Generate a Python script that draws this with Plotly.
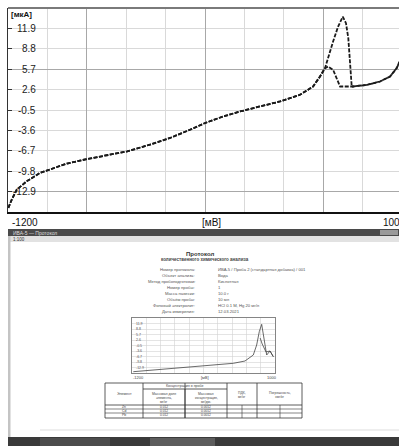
import plotly.graph_objects as go

W, H = 399, 446

# ---------------- main chart data (mV, µA) ----------------
base_v = [-1198, -1179, -1151, -1096, -1021, -947, -872, -757, -630, -534, -408,
          -295, -184, -100, 2, 96, 207, 319, 430, 503, 542, 570]
base_i = [-15.37, -14.11, -12.60, -11.34, -10.06, -9.30, -8.65, -7.94, -7.29, -6.79, -5.77,
          -4.75, -3.50, -2.48, -1.48, -0.72, 0.04, 0.80, 1.81, 3.07, 4.59, 5.86]
peak_a_v = [615, 643, 669, 687, 700, 710, 719]
peak_a_i = [9.90, 12.17, 13.69, 12.69, 10.41, 6.36, 3.07]
peak_b_v = [587, 615, 654]
peak_b_i = [6.11, 5.61, 3.07]
tail_v = [726, 805, 877, 933, 970, 983, 1000]
tail_i = [3.07, 3.33, 3.83, 4.59, 5.86, 6.67, 7.6]

y_tick_vals = [11.9, 8.8, 5.7, 2.6, -0.5, -3.6, -6.7, -9.8, -12.9]
y_tick_text = ["11.9", "8.8", "5.7", "2.6", "-0.5", "-3.6", "-6.7", "-9.8", "-12.9"]
x_grid_minor = [-980, -760, -540, -320, -100, 120, 340, 560, 780]
x_grid_major = [-760, -100, 560]
y_grid_major = [5.7, -12.9]
x_label_left, x_label_mid, x_label_right = "-1200", "[мВ]", "1000"
y_unit = "[мкА]"

# ---------------- mini chart (document preview) ----------------
mini_base_v = [-1180, -666, -154, 359, 538, 666, 718]
mini_base_i = [-15.27, -13.75, -12.45, -10.53, -9.24, -5.86, -0.22]
mini_a_v = [758, 795, 820, 846, 872, 923, 974]
mini_a_i = [7.28, 11.45, 5.42, -2.08, -5.86, -3.6, -6.8]
mini_b_v = [772, 803, 862, 923, 974]
mini_b_i = [3.7, 0.35, -4.16, -3.6, -6.8]

doc_title = "Протокол"
doc_subtitle = "количественного химического анализа"
doc_labels = ["Номер протокола:", "Объект анализа:", "Метод пробоподготовки:", "Номер пробы:",
              "Масса навески:", "Объём пробы:", "Фоновый электролит:", "Дата измерения:"]
doc_values = ["ИВА-5 / Проба 2 (стандартная добавка) / 001", "Вода", "Кислотная", "1",
              "10.0 г", "10 мл", "HCl 0.1 M, Hg 20 мг/л", "12.03.2021"]
table_elems = ["Zn", "Cd", "Pb"]

FONT = "Liberation Sans"


def px(x):
    return x / W


def py(y):
    return 1 - y / H


fig = go.Figure()

line_style = dict(color="#1a1a1a", width=1.8, dash="4px,1.5px")
fig.add_trace(go.Scatter(x=base_v + peak_a_v + tail_v, y=base_i + peak_a_i + tail_i,
                         mode="lines", line=line_style, xaxis="x", yaxis="y", hoverinfo="skip"))
fig.add_trace(go.Scatter(x=base_v + peak_b_v + tail_v, y=base_i + peak_b_i + tail_i,
                         mode="lines", line=line_style, xaxis="x", yaxis="y", hoverinfo="skip"))

mini_style = dict(color="#444", width=0.8)
fig.add_trace(go.Scatter(x=mini_base_v + mini_a_v, y=mini_base_i + mini_a_i, mode="lines",
                         line=mini_style, xaxis="x2", yaxis="y2", hoverinfo="skip"))
fig.add_trace(go.Scatter(x=mini_b_v, y=mini_b_i, mode="lines",
                         line=mini_style, xaxis="x2", yaxis="y2", hoverinfo="skip"))

shapes = []
annotations = []

# main chart top border
shapes.append(dict(type="line", xref="paper", yref="paper", x0=px(8), x1=1, y0=py(8), y1=py(8),
                   line=dict(color="#7a7a7a", width=2)))

# y labels of main chart
for v, t in zip(y_tick_vals, y_tick_text):
    annotations.append(dict(xref="paper", yref="y", x=px(37.5), y=v, text=t, showarrow=False,
                            xanchor="right", yanchor="middle",
                            font=dict(family=FONT, size=10, color="#222")))
annotations.append(dict(xref="paper", yref="paper", x=px(9), y=py(15), text="<b>" + y_unit + "</b>",
                        showarrow=False, xanchor="left", yanchor="middle",
                        font=dict(family=FONT, size=8, color="#111")))
for x, t in [(10, x_label_left), (200, x_label_mid), (381, x_label_right)]:
    annotations.append(dict(xref="paper", yref="paper", x=px(x), y=py(222), text=t, showarrow=False,
                            xanchor="left", yanchor="middle",
                            font=dict(family=FONT, size=10, color="#111")))

# ---------------- document screenshot frame ----------------
def rect(x0, y0, x1, y1, fill, lw=0, lc="rgba(0,0,0,0)"):
    shapes.append(dict(type="rect", xref="paper", yref="paper", x0=px(x0), x1=px(x1),
                       y0=py(y1), y1=py(y0), fillcolor=fill, line=dict(width=lw, color=lc),
                       layer="below"))


def hline(x0, x1, y, color="#333", w=0.8):
    shapes.append(dict(type="line", xref="paper", yref="paper", x0=px(x0), x1=px(x1),
                       y0=py(y), y1=py(y), line=dict(color=color, width=w)))


def vline(x, y0, y1, color="#333", w=0.8):
    shapes.append(dict(type="line", xref="paper", yref="paper", x0=px(x), x1=px(x),
                       y0=py(y0), y1=py(y1), line=dict(color=color, width=w)))


def txt(x, y, t, size=4.5, anchor="left", color="#444", bold=False):
    annotations.append(dict(xref="paper", yref="paper", x=px(x), y=py(y),
                            text=("<b>%s</b>" % t) if bold else t, showarrow=False,
                            xanchor=anchor, yanchor="middle",
                            font=dict(family=FONT, size=size, color=color)))


rect(8, 229, 399, 236, "#4a4a4a")
rect(380, 230, 398, 235, "#9a9a9a")
rect(8, 236, 399, 242, "#e2e2e2")
rect(8, 236, 10.5, 437, "#c4c4c4")
rect(8, 437, 399, 446, "#3a3a3a")
rect(150, 438, 215, 446, "#5c5c5c")
rect(40, 438, 110, 446, "#4c4c4c")
hline(40, 399, 430, color="#dddddd", w=1)
txt(11, 232.5, "ИВА-5 — Протокол", size=5, color="#dddddd")
txt(11, 239, "1:100", size=4.5, color="#333")

txt(200, 254, doc_title, size=6, anchor="center", color="#333", bold=True)
txt(205, 259.5, doc_subtitle, size=4.5, anchor="center", color="#444", bold=True)
for i, (lab, val) in enumerate(zip(doc_labels, doc_values)):
    y = 269 + 6 * i
    txt(197, y, lab, size=4.2, anchor="right", color="#555")
    txt(216, y, val, size=4.2, anchor="left", color="#555")

# mini chart labels
for v, t in zip(y_tick_vals, y_tick_text):
    annotations.append(dict(xref="paper", yref="y2", x=px(134), y=v, text=t, showarrow=False,
                            xanchor="left", yanchor="middle",
                            font=dict(family=FONT, size=3.5, color="#555")))
txt(138, 377.5, x_label_left, size=4, anchor="center", color="#444")
txt(205, 377.5, x_label_mid, size=4, anchor="center", color="#444")
txt(272, 377.5, x_label_right, size=4, anchor="center", color="#444")

# table
rect(105, 383, 302, 418, "rgba(0,0,0,0)", lw=0.8, lc="#333")
for xv in [143, 185, 227, 257]:
    vline(xv, 383, 418)
hline(143, 227, 389)
vline(185, 389, 418)
hline(105, 302, 405)
hline(105, 302, 409, w=0.6)
hline(105, 302, 413, w=0.6)
vline(242, 405, 418, w=0.6)
vline(280, 405, 418, w=0.6)
txt(124, 394, "Элемент", size=3.6, anchor="center")
txt(185, 386, "Концентрация в пробе", size=3.6, anchor="center")
txt(164, 394, "Массовая доля", size=3.4, anchor="center")
txt(164, 398, "элемента,", size=3.4, anchor="center")
txt(164, 402, "мг/кг", size=3.4, anchor="center")
txt(206, 394, "Массовая", size=3.4, anchor="center")
txt(206, 398, "концентрация,", size=3.4, anchor="center")
txt(206, 402, "мг/дм³", size=3.4, anchor="center")
txt(242, 393, "ПДК,", size=3.4, anchor="center")
txt(242, 397, "мг/кг", size=3.4, anchor="center")
txt(280, 393, "Погрешность,", size=3.4, anchor="center")
txt(280, 397, "±мг/кг", size=3.4, anchor="center")
for i, el in enumerate(table_elems):
    y = 407 + 4 * i
    txt(124, y, el, size=3.4, anchor="center")
    txt(164, y, "0.012", size=3.2, anchor="center")
    txt(206, y, "0.0012", size=3.2, anchor="center")

fig.update_layout(
    width=W, height=H,
    margin=dict(l=0, r=0, t=0, b=0),
    paper_bgcolor="white", plot_bgcolor="white",
    showlegend=False,
    hovermode=False,
    xaxis=dict(domain=[px(8), 1], range=[-1200, 983], anchor="y",
               tickvals=x_grid_major, showticklabels=False, ticks="",
               showgrid=True, gridcolor="#a8a8a8", gridwidth=1,
               minor=dict(tickvals=x_grid_minor, showgrid=True, gridcolor="#d9d9d9", ticks=""),
               showline=True, linecolor="#111", linewidth=2, zeroline=False),
    yaxis=dict(domain=[py(212), py(8)], range=[-16, 15], anchor="x",
               tickvals=y_grid_major, showticklabels=False,
               ticks="inside", ticklen=4, tickcolor="#333",
               showgrid=True, gridcolor="#a8a8a8", gridwidth=1,
               minor=dict(tickvals=y_tick_vals, showgrid=True, gridcolor="#d9d9d9",
                          ticks="inside", ticklen=4, tickcolor="#333"),
               showline=True, linecolor="#333", linewidth=1, zeroline=False),
    xaxis2=dict(domain=[px(132), px(275)], range=[-1200, 1000], anchor="y2",
                tickvals=x_grid_minor, showticklabels=False, ticks="",
                showgrid=True, gridcolor="#d2d2d2", gridwidth=0.6,
                showline=True, mirror=True, linecolor="#666", linewidth=0.8, zeroline=False),
    yaxis2=dict(domain=[py(373), py(318)], range=[-16, 15], anchor="x2",
                tickvals=y_tick_vals, showticklabels=False, ticks="",
                showgrid=True, gridcolor="#d2d2d2", gridwidth=0.6,
                showline=True, mirror=True, linecolor="#666", linewidth=0.8, zeroline=False),
    shapes=shapes,
    annotations=annotations,
)

fig.write_html("out.html", config={"displayModeBar": False, "staticPlot": True},
               post_script="document.body.style.margin='0px';document.body.style.overflow='hidden';")
